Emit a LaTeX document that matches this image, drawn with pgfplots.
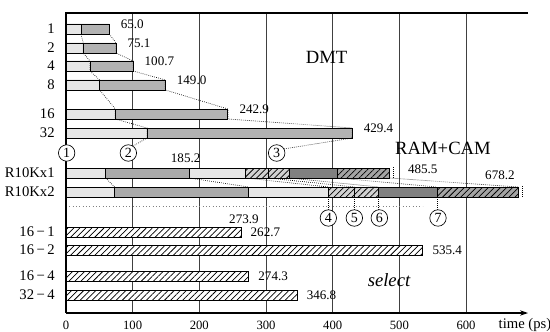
\documentclass[border=0pt]{standalone}
\usepackage{fontspec}
\setmainfont{Liberation Serif}
\usepackage{pgfplots}
\pgfplotsset{compat=1.18}
\usetikzlibrary{patterns.meta,arrows.meta}

\definecolor{lightbar}{HTML}{E6E6E6}
\definecolor{midbar}{HTML}{B2B2B2}
\definecolor{midbarb}{HTML}{AAAAAA}
\definecolor{darkbar}{HTML}{808080}
\definecolor{hatchlight}{HTML}{D2D2D2}
\definecolor{hatchdark}{HTML}{A4A4A4}

\pgfplotsset{
  seg/.style={xbar, bar width=7.5pt, bar shift=0pt, draw=black, line width=0.7pt, forget plot},
  hatch/.style={postaction={pattern={Lines[angle=45,distance=3.2pt,line width=0.55pt]}}},
  vlabels/.style={point meta=x,
    nodes near coords={\pgfmathprintnumber[fixed,fixed zerofill,precision=1]{\pgfplotspointmeta}},
    every node near coord/.append style={anchor=west, text=black, draw=none, fill=none,
      font=\fontsize{9.8}{9.8}\selectfont, #1}},
  conn/.style={densely dotted, line width=0.5pt, black, forget plot},
}
\tikzset{circ/.style={circle, draw=black, line width=0.5pt, fill=white, inner sep=1.3pt,
  font=\fontsize{10.5}{10.5}\selectfont}}

\begin{document}
\begin{tikzpicture}
\begin{axis}[
  scale only axis, width=346.5pt, height=225pt,
  xmin=0, xmax=693, ymin=13, ymax=313, y dir=reverse,
  clip=false,
  axis line style={draw=none},
  xtick={0,100,...,600},
  xticklabel style={anchor=base, yshift=-12.2pt, font=\fontsize{9.5}{9.5}\selectfont},
  ytick={29,48,66,85,114,133,173,192,232,250,276,295},
  yticklabels={1,2,4,8,16,32,R10Kx1,R10Kx2,16\,−\,1,16\,−\,2,16\,−\,4,32\,−\,4},
  yticklabel style={xshift=-5pt, font=\fontsize{11}{11}\selectfont},
  major tick length=0pt,
  xmajorgrids, grid style={black!75, line width=0.6pt},
  /pgf/number format/assume math mode=true,
]
% ---- DMT ----
\addplot[seg, fill=midbar, vlabels={xshift=5pt, yshift=3.75pt}] coordinates {
  (65.0,29) (75.1,48) (100.7,66) (149.0,85) (242.9,114) (429.4,133)};
\addplot[seg, fill=lightbar] coordinates {
  (22.5,29) (26,48) (36,66) (50.5,85) (74,114) (121.5,133)};
% ---- RAM+CAM (R10K) ----
\addplot[seg, fill=hatchdark, hatch] coordinates {(485.5,173) (678.2,192)};
\addplot[seg, fill=darkbar] coordinates {(407.5,173) (556.5,192)};
\addplot[seg, fill=hatchlight, hatch] coordinates {(334.5,173) (469,192)};
\addplot[seg, fill=hatchlight, hatch] coordinates {(303.5,173) (432.5,192)};
\addplot[seg, fill=lightbar] coordinates {(269.5,173) (393.5,192)};
\addplot[seg, fill=midbarb] coordinates {(185.2,173) (273.9,192)};
\addplot[seg, fill=lightbar] coordinates {(59.5,173) (73,192)};
% ---- select ----
\addplot[seg, fill=white, hatch, vlabels={xshift=3.5pt}] coordinates {
  (262.7,232) (535.4,250) (274.3,276) (346.8,295)};
% ---- connectors ----
\addplot[conn] coordinates {(22.5,34) (26,43) (26,53) (36,61) (36,71) (50.5,80) (50.5,90)
  (74,109) (74,119) (121.5,128) (121.5,138) (98,147)};
\addplot[conn] coordinates {(65,34) (75.1,43) (75.1,53) (100.7,61) (100.7,71) (149,80) (149,90)
  (242.9,109) (242.9,119) (429.4,128) (429.4,138) (326,149)};
\addplot[conn] coordinates {(59.5,178) (73,187)};
\addplot[conn] coordinates {(185.2,178) (273.9,187)};
\addplot[conn] coordinates {(269.5,178) (393.5,187)};
\addplot[conn] coordinates {(303.5,178) (432.5,187)};
\addplot[conn] coordinates {(334.5,178) (469,187)};
\addplot[conn] coordinates {(407.5,178) (556.5,187)};
\addplot[conn] coordinates {(485.5,178) (678.2,187)};
\addplot[conn] coordinates {(491,167) (491,179)};
\addplot[conn] coordinates {(684,186) (684,198)};
\addplot[conn] coordinates {(393.5,197) (393.5,211)};
\addplot[conn] coordinates {(432.5,197) (432.5,211)};
\addplot[conn] coordinates {(469,197) (469,211)};
\addplot[conn] coordinates {(556.5,197) (556.5,211)};
\addplot[conn, gray, dotted] coordinates {(0,206) (535,206)};
% ---- frame ----
\draw[line width=0.8pt] (axis cs:693,13) -- (axis cs:0,13) -- (axis cs:0,313);
\draw[line width=0.8pt, -{Stealth[length=6pt,width=4pt]}] (axis cs:0,313) -- (axis cs:693,313);
% ---- circled markers ----
\node[circ] at (axis cs:1,153) {1};
\node[circ] at (axis cs:93.5,153) {2};
\node[circ] at (axis cs:316,153) {3};
\node[circ] at (axis cs:393.5,218) {4};
\node[circ] at (axis cs:432.5,218) {5};
\node[circ] at (axis cs:470,218) {6};
\node[circ] at (axis cs:558,218) {7};
% ---- texts ----
\node[font=\fontsize{14}{14}\selectfont] at (axis cs:391,57) {DMT};
\node[font=\fontsize{14}{14}\selectfont] at (axis cs:565.5,148) {RAM+CAM};
\node[font=\fontsize{14}{14}\selectfont\itshape] at (axis cs:484.5,280) {select};
\node[font=\fontsize{9.8}{9.8}\selectfont] at (axis cs:179.5,158) {185.2};
\node[font=\fontsize{9.8}{9.8}\selectfont, anchor=west] at (axis cs:506,169) {485.5};
\node[font=\fontsize{9.8}{9.8}\selectfont, anchor=east] at (axis cs:680,175) {678.2};
\node[font=\fontsize{9.8}{9.8}\selectfont, anchor=east] at (axis cs:296,219) {273.9};
\node[font=\fontsize{11}{11}\selectfont, anchor=base west] at (axis cs:642,328.5) {time (ps)};
\end{axis}
\pgfresetboundingbox
\useasboundingbox (-49.5pt,-14.25pt) rectangle (363pt,234.75pt);
\end{tikzpicture}
\end{document}
